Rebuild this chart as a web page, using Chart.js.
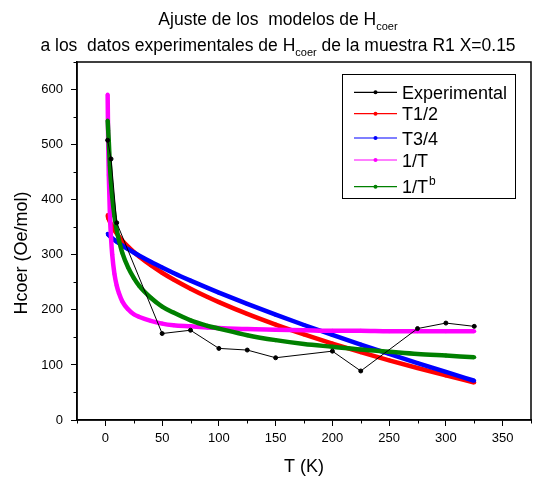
<!DOCTYPE html>
<html>
<head>
<meta charset="utf-8">
<script src="https://cdn.jsdelivr.net/npm/chart.js@4"></script>
<style>
  body { margin: 0; background: #fff; }
  #wrap { width: 553px; height: 479px; position: relative; }
</style>
</head>
<body>
<div id="wrap"><canvas id="grafica"></canvas></div>
<script>
// datos experimentales
const tExp = [2, 5, 10, 50, 75, 100, 125, 150, 200, 225, 275, 300, 325];
const hExp = [508, 474, 358, 157, 163, 130, 127, 113, 125, 89, 166, 176, 170];

// curvas de ajuste
const tFit = [2, 2.5, 3, 4, 5, 6, 8, 10, 12, 15, 20, 25, 30, 40, 50, 60, 75, 90, 100, 125, 150, 175, 200, 225, 250, 275, 300, 325];
const hT12 = [372, 367, 364.5, 359.6, 355.3, 351.4, 344.6, 338.5, 333, 325.5, 314.7, 305, 296.4, 281, 267.4, 255.1, 238.5, 223.4, 214.1, 192.6, 173.2, 155.4, 138.8, 123.2, 108.4, 94.4, 80.9, 68.1];
const hT34 = [338, 336.7, 335.7, 333.7, 331.9, 330.2, 326.9, 323.8, 320.9, 316.7, 310.1, 304, 298.2, 287.2, 276.9, 267, 253.1, 239.8, 231.2, 210.7, 191.2, 172.5, 154.5, 137, 120, 103.4, 87.2, 71.3];
const hInvT = [591, 502, 445, 373, 330, 301, 265, 244, 230, 215, 201, 192, 187, 180, 175, 172, 170, 168, 167, 165, 164, 163, 162, 162, 161, 161, 161, 161];
const hInvTb = [544, 525, 506, 462, 430, 406, 370, 345, 326, 303, 277, 258, 243, 222, 206, 195, 181, 171, 166, 154, 145, 138, 133, 128, 124, 120, 117, 114];

const seriesNames = ['Experimental', 'T1/2', 'T3/4', '1/T', '1/T'];
const seriesColors = ['#000000', '#ff0000', '#0000ff', '#ff00ff', '#008000'];

const fuente = '"Liberation Sans", Arial, sans-serif';

function pares(xs, ys) {
    return xs.map((x, i) => ({x: x, y: ys[i]}));
}

function curva(idx, ys, orden) {
    return {
        label: seriesNames[idx],
        data: pares(tFit, ys),
        borderColor: seriesColors[idx],
        backgroundColor: seriesColors[idx],
        borderWidth: 4.5,
        pointRadius: 2,
        pointBorderWidth: 0,
        showLine: true,
        cubicInterpolationMode: 'monotone',
        order: orden
    };
}

function textoRico(ctx, partes, cx, y) {
    let ancho = 0;
    partes.forEach(p => {
        ctx.font = p.size + 'px ' + fuente;
        ancho += ctx.measureText(p.t).width;
    });
    let x = cx - ancho / 2;
    ctx.textAlign = 'left';
    partes.forEach(p => {
        ctx.font = p.size + 'px ' + fuente;
        ctx.fillText(p.t, x, y + (p.dy || 0));
        x += ctx.measureText(p.t).width;
    });
}

const extras = {
    id: 'extras',
    afterDraw(chart) {
        const {ctx, chartArea: a, scales} = chart;
        ctx.save();
        ctx.fillStyle = '#000';
        ctx.strokeStyle = '#000';

        // marco
        ctx.lineWidth = 1.5;
        ctx.strokeRect(a.left, a.top, a.right - a.left, a.bottom - a.top);

        // ticks menores
        ctx.lineWidth = 1;
        ctx.beginPath();
        scales.x.ticks.forEach(t => {
            if (t.value % 50 !== 0) {
                const px = Math.round(scales.x.getPixelForValue(t.value)) + 0.5;
                ctx.moveTo(px, a.bottom);
                ctx.lineTo(px, a.bottom + 3.5);
            }
        });
        scales.y.ticks.forEach(t => {
            if (t.value % 100 !== 0) {
                const py = Math.round(scales.y.getPixelForValue(t.value)) + 0.5;
                ctx.moveTo(a.left, py);
                ctx.lineTo(a.left - 3.5, py);
            }
        });
        ctx.stroke();

        // titulo
        ctx.textBaseline = 'alphabetic';
        textoRico(ctx, [{t: 'Ajuste de los  modelos de H', size: 17.5}, {t: 'coer', size: 11, dy: 5}], 278, 25);
        textoRico(ctx, [{t: 'a los  datos experimentales de H', size: 17.5}, {t: 'coer', size: 11, dy: 5},
                        {t: ' de la muestra R1 X=0.15', size: 17.5}], 278, 51);

        // titulo eje y
        ctx.save();
        ctx.translate(26.5, 253);
        ctx.rotate(-Math.PI / 2);
        ctx.textAlign = 'center';
        ctx.font = '18px ' + fuente;
        ctx.fillText('Hcoer (Oe/mol)', 0, 0);
        ctx.restore();

        // leyenda
        ctx.lineWidth = 1;
        ctx.strokeRect(342.5, 74.5, 173, 124);
        const filas = [92.3, 113.7, 138, 160, 186.7];
        filas.forEach((fy, i) => {
            ctx.strokeStyle = seriesColors[i];
            ctx.fillStyle = seriesColors[i];
            ctx.lineWidth = 1.2;
            ctx.beginPath();
            ctx.moveTo(354, fy);
            ctx.lineTo(397, fy);
            ctx.stroke();
            ctx.beginPath();
            ctx.arc(375.5, fy, 2, 0, Math.PI * 2);
            ctx.fill();
            ctx.fillStyle = '#000';
            ctx.textAlign = 'left';
            ctx.font = '18px ' + fuente;
            ctx.fillText(seriesNames[i], 402, fy + 6.5);
            if (i === 4) {
                const w = ctx.measureText(seriesNames[i]).width;
                ctx.font = '12px ' + fuente;
                ctx.fillText('b', 402 + w + 1, fy - 1.5);
            }
        });
        ctx.restore();
    }
};

new Chart(document.getElementById('grafica'), {
    type: 'scatter',
    data: {
        datasets: [
            {
                label: seriesNames[0],
                data: pares(tExp, hExp),
                borderColor: '#000',
                backgroundColor: '#000',
                borderWidth: 1,
                pointRadius: 2,
                showLine: true,
                order: 0
            },
            curva(1, hT12, 4),
            curva(2, hT34, 3),
            curva(3, hInvT, 2),
            curva(4, hInvTb, 1)
        ]
    },
    options: {
        responsive: true,
        maintainAspectRatio: false,
        animation: false,
        layout: { padding: { top: 62, right: 22, left: 0, bottom: 0 } },
        plugins: {
            legend: { display: false },
            title: { display: false },
            tooltip: { enabled: false }
        },
        scales: {
            x: {
                type: 'linear',
                min: -25,
                max: 375,
                border: { color: '#000', width: 1.5 },
                grid: {
                    drawOnChartArea: false,
                    tickLength: 6,
                    tickColor: c => (c.tick && c.tick.value % 50 === 0) ? '#000' : 'rgba(0,0,0,0)'
                },
                ticks: {
                    stepSize: 25,
                    autoSkip: false,
                    maxRotation: 0,
                    padding: 5,
                    color: '#000',
                    font: { family: fuente, size: 13 },
                    callback: v => (v >= 0 && v % 50 === 0) ? v : ''
                },
                title: {
                    display: true,
                    text: 'T (K)',
                    color: '#000',
                    font: { family: fuente, size: 18 },
                    padding: { top: 0, bottom: 1 }
                },
                afterFit: s => { s.height = 59; }
            },
            y: {
                type: 'linear',
                min: 0,
                max: 650,
                border: { color: '#000', width: 1.5 },
                grid: {
                    drawOnChartArea: false,
                    tickLength: 6,
                    tickColor: c => (c.tick && c.tick.value % 100 === 0) ? '#000' : 'rgba(0,0,0,0)'
                },
                ticks: {
                    stepSize: 50,
                    autoSkip: false,
                    padding: 8,
                    color: '#000',
                    font: { family: fuente, size: 13 },
                    callback: v => (v % 100 === 0 && v <= 600) ? v : ''
                },
                afterFit: s => { s.width = 77; }
            }
        }
    },
    plugins: [extras]
});
</script>
</body>
</html>
